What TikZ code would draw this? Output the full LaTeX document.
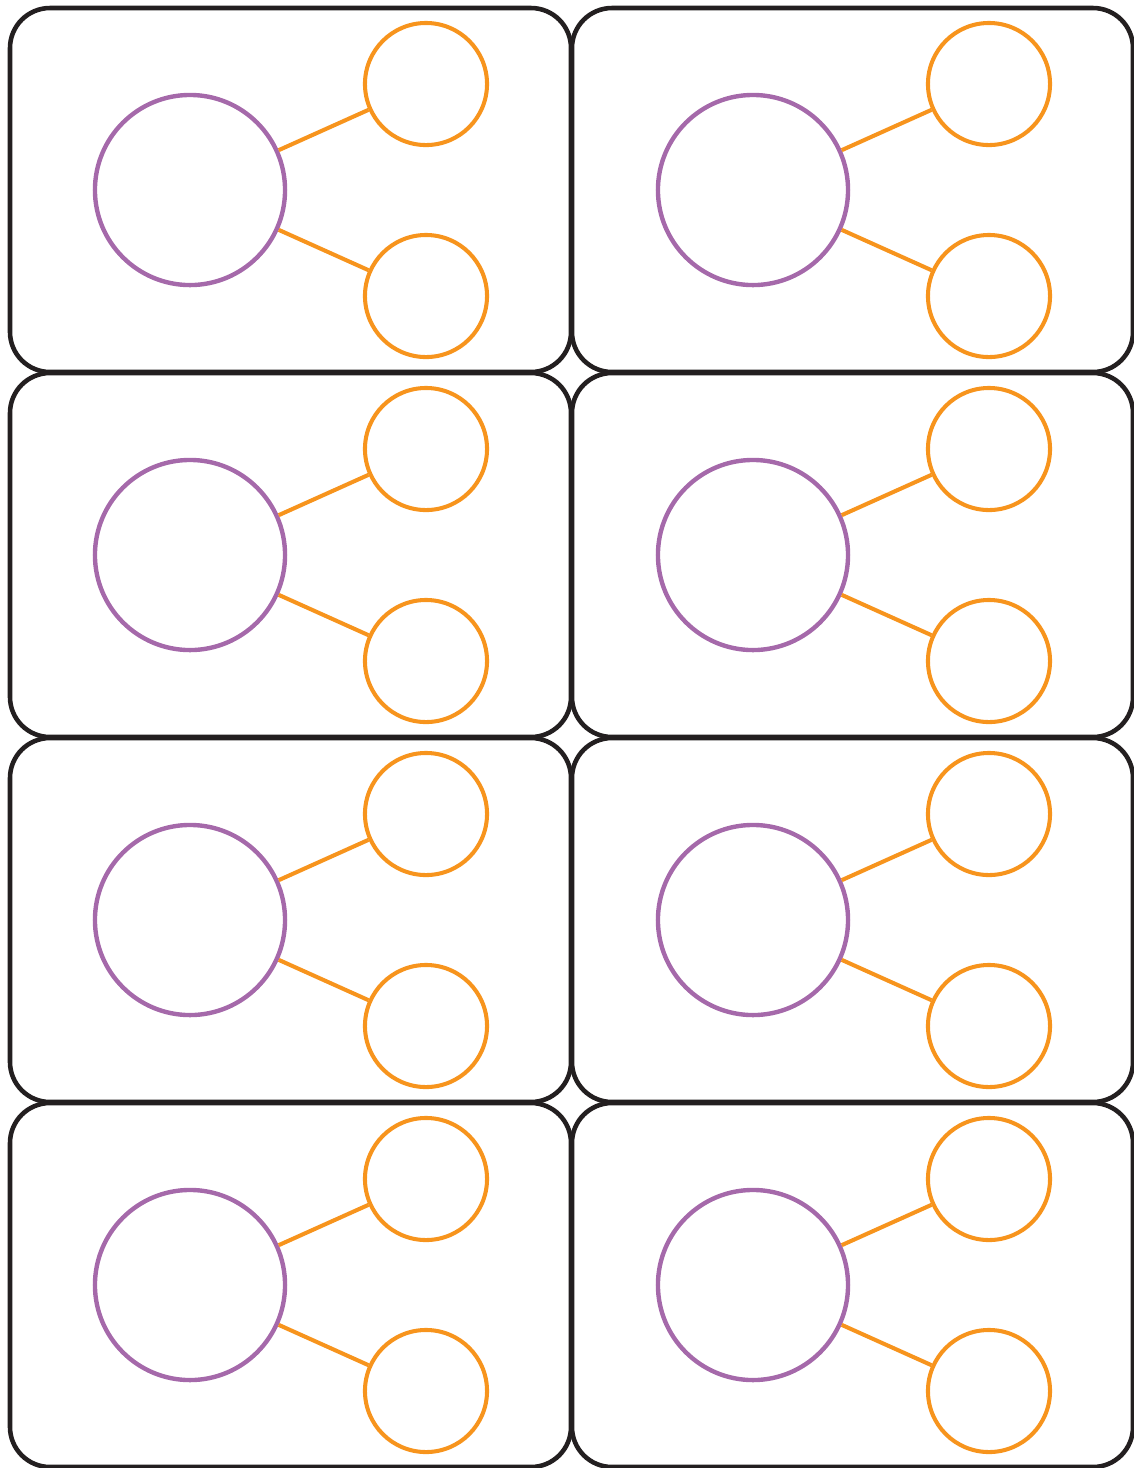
\documentclass[tikz,border=0pt]{standalone}
\usetikzlibrary{positioning}
\definecolor{cardline}{HTML}{231F20}
\definecolor{hubpurple}{HTML}{A569AA}
\definecolor{leaforange}{HTML}{F7941D}

\begin{document}
\begin{tikzpicture}[
  x=0.01cm, y=-0.01cm,
  card/.style={draw=cardline,line width=1.3pt,rounded corners=0.4cm},
  hub/.style={draw=hubpurple,circle,line width=1.25pt,minimum size=1.9cm,inner sep=0pt},
  leaf/.style={draw=leaforange,circle,line width=1.15pt,minimum size=1.22cm,inner sep=0pt},
  link/.style={draw=leaforange,line width=1.15pt}
]
  \useasboundingbox (0,0) rectangle (1134,1468);
  \foreach \col in {0,1} {
    \foreach \row in {0,...,3} {
      \draw[card] (10+562*\col,8+365*\row) rectangle +(561,364);
      \node[hub] (hub-\col-\row) at (190+563*\col,190+365*\row) {};
      \node[leaf] (up-\col-\row) at (426+563*\col,84+365*\row) {};
      \node[leaf] (down-\col-\row) at (426+563*\col,296+365*\row) {};
      \draw[link] (hub-\col-\row) -- (up-\col-\row);
      \draw[link] (hub-\col-\row) -- (down-\col-\row);
    }
  }
\end{tikzpicture}
\end{document}
